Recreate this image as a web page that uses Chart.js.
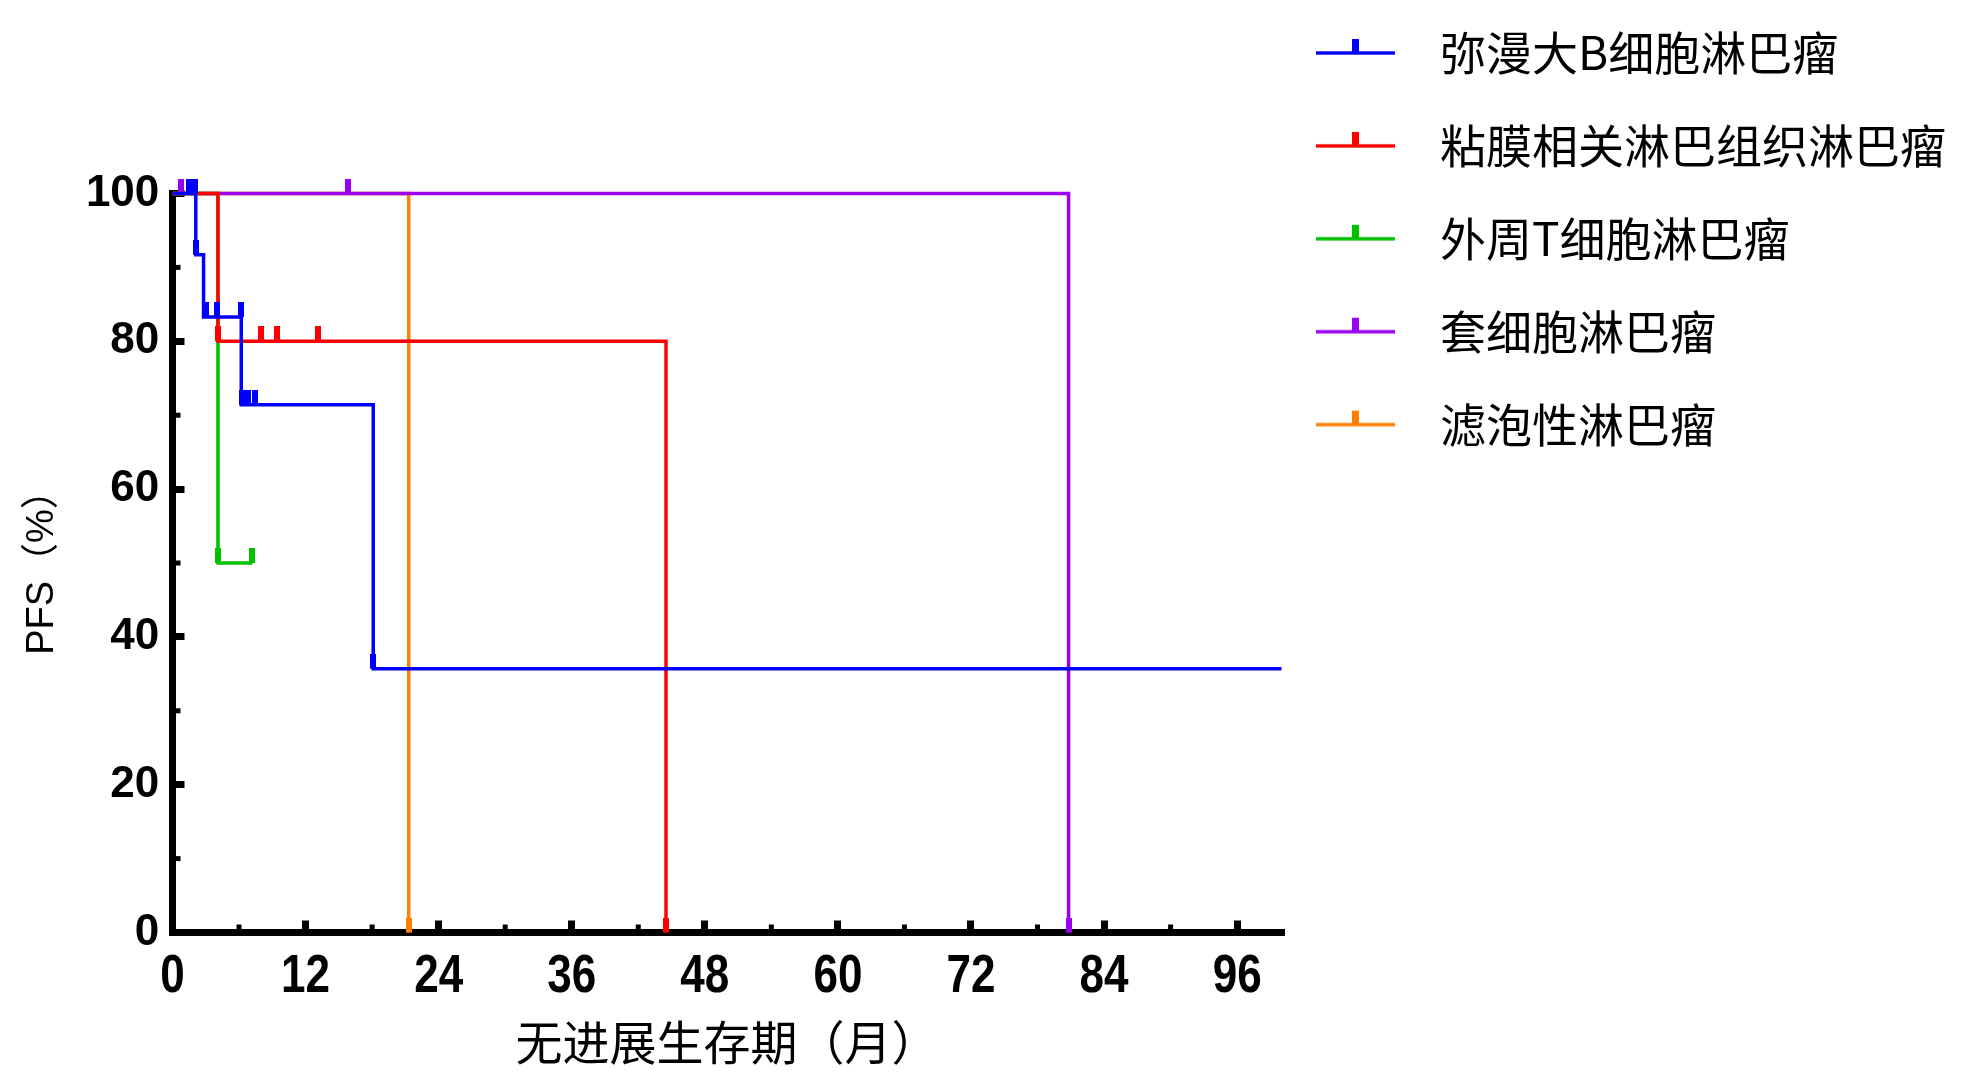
<!DOCTYPE html>
<html>
<head>
<meta charset="utf-8">
<style>
  html, body { margin: 0; padding: 0; background: #ffffff; }
  #wrap { width: 1969px; height: 1081px; }
</style>
<script src="https://cdn.jsdelivr.net/npm/chart.js@4/dist/chart.umd.min.js"></script>
</head>
<body>
<div id="wrap"><canvas id="c" width="1969" height="1081"></canvas></div>
<script>
// ---------------- data ----------------
const seriesNames = ['弥漫大B细胞淋巴瘤', '粘膜相关淋巴组织淋巴瘤', '外周T细胞淋巴瘤', '套细胞淋巴瘤', '滤泡性淋巴瘤'];
const seriesColors = ['#0000FF', '#FF0000', '#00C000', '#9C00F0', '#FF8000'];

const dlbclTime = [0, 2.1, 2.8, 6.2, 18.1, 100];
const dlbclPFS  = [100, 91.7, 83.3, 71.4, 35.7, 35.7];
const dlbclCensorTime = [1.5, 2.0, 2.1, 3.0, 4.0, 6.2, 6.3, 6.8, 7.4, 18.1];
const dlbclCensorPFS  = [100, 100, 91.7, 83.3, 83.3, 83.3, 71.4, 71.4, 71.4, 35.7];

const maltTime = [0, 4.1, 44.5];
const maltPFS  = [100, 80, 0];
const maltCensorTime = [4.1, 8.0, 9.4, 13.1, 44.5];
const maltCensorPFS  = [80, 80, 80, 80, 0];

const ptclTime = [0, 4.1, 7.2];
const ptclPFS  = [100, 50, 50];
const ptclCensorTime = [4.1, 7.2];
const ptclCensorPFS  = [50, 50];

const mclTime = [0, 80.8];
const mclPFS  = [100, 0];
const mclCensorTime = [0.8, 15.8, 80.8];
const mclCensorPFS  = [100, 100, 0];

const flTime = [0, 21.3];
const flPFS  = [100, 0];
const flCensorTime = [21.3];
const flCensorPFS  = [0];

const xTickValues = [0, 12, 24, 36, 48, 60, 72, 84, 96];
const xMinorTicks = [6, 18, 30, 42, 54, 66, 78, 90];
const yTickValues = [0, 20, 40, 60, 80, 100];
const yMinorTicks = [10, 30, 50, 70, 90];
const xTitle = '无进展生存期（月）';
const yTitle = 'PFS（%）';

// ---------------- helpers ----------------
function pts(xs, ys) { return xs.map((x, i) => ({x: x, y: ys[i]})); }

function censorMark(color) {
  const c = document.createElement('canvas');
  c.width = 6; c.height = 30;
  const g = c.getContext('2d');
  g.fillStyle = color;
  g.fillRect(0, 0, 6, 15);
  return c;
}
function legendIcon(color) {
  const c = document.createElement('canvas');
  c.width = 101; c.height = 30;
  const g = c.getContext('2d');
  g.fillStyle = color;
  g.fillRect(0, 13.3, 79, 3.4);
  g.fillRect(36, 1, 7, 14);
  return c;
}

const curves = [
  pts(dlbclTime, dlbclPFS), pts(maltTime, maltPFS), pts(ptclTime, ptclPFS),
  pts(mclTime, mclPFS), pts(flTime, flPFS)
];
const censors = [
  pts(dlbclCensorTime, dlbclCensorPFS), pts(maltCensorTime, maltCensorPFS),
  pts(ptclCensorTime, ptclCensorPFS), pts(mclCensorTime, mclCensorPFS),
  pts(flCensorTime, flCensorPFS)
];

const datasets = [];
seriesNames.forEach((name, i) => {
  datasets.push({
    label: name,
    data: curves[i],
    borderColor: seriesColors[i],
    backgroundColor: seriesColors[i],
    borderWidth: 3.5,
    stepped: 'before',
    pointRadius: 0,
    fill: false,
    clip: false,
    order: i
  });
});
seriesNames.forEach((name, i) => {
  datasets.push({
    label: name + ' censored',
    data: censors[i],
    showLine: false,
    pointStyle: censorMark(seriesColors[i]),
    pointRadius: 6,
    borderColor: seriesColors[i],
    backgroundColor: seriesColors[i],
    clip: false,
    order: i
  });
});

// narrow (condensed) x tick labels, as in the reference, and short minor ticks
const axisDetailPlugin = {
  id: 'axisDetail',
  beforeDraw(chart) {
    const xs = chart.scales.x;
    const items = xs.getLabelItems(chart.chartArea);
    items.forEach(it => {
      it.options.maxWidth = String(it.label).length * 24.5;
    });
  },
  afterDraw(chart) {
    const ctx = chart.ctx;
    const xs = chart.scales.x, ys = chart.scales.y;
    const area = chart.chartArea;
    ctx.save();
    ctx.fillStyle = '#000';
    xMinorTicks.forEach(v => {
      const px = xs.getPixelForValue(v);
      ctx.fillRect(px - 2.5, area.bottom - 8, 5, 8);
    });
    yMinorTicks.forEach(v => {
      const py = ys.getPixelForValue(v);
      ctx.fillRect(area.left, py - 2.5, 8, 5);
    });
    ctx.restore();
  }
};

const cjk = "'Noto Sans CJK SC', 'Noto Sans', sans-serif";

new Chart(document.getElementById('c'), {
  type: 'line',
  data: { datasets: datasets },
  plugins: [axisDetailPlugin],
  options: {
    responsive: false,
    devicePixelRatio: 1,
    animation: false,
    events: [],
    layout: { padding: { left: 0, right: 13, top: -4.5, bottom: 0 } },
    plugins: {
      tooltip: { enabled: false },
      title: {
        display: true,
        text: '',
        padding: { top: 186, bottom: 0 },
        font: { size: 12, lineHeight: 1 }
      },
      legend: {
        display: true,
        position: 'right',
        align: 'start',
        maxWidth: 720,
        labels: {
          usePointStyle: true,
          pointStyleWidth: 101,
          padding: 34.5,
          color: '#000',
          font: { family: cjk, size: 46, lineHeight: 1.2696 },
          generateLabels(chart) {
            return seriesNames.map((name, i) => ({
              text: [name],
              fillStyle: seriesColors[i],
              strokeStyle: seriesColors[i],
              fontColor: '#000',
              lineWidth: 0,
              hidden: false,
              pointStyle: legendIcon(seriesColors[i]),
              datasetIndex: i
            }));
          }
        }
      }
    },
    scales: {
      x: {
        type: 'linear',
        min: 0,
        max: 100,
        afterBuildTicks(scale) { scale.ticks = xTickValues.map(v => ({value: v})); },
        afterFit(scale) { scale.height = 148.5; },
        border: { display: true, width: 7, color: '#000' },
        grid: { display: true, drawOnChartArea: false, drawTicks: true, tickLength: -12, tickWidth: 7, lineWidth: 7, tickColor: '#000', color: '#000' },
        ticks: {
          autoSkip: false, maxRotation: 0, padding: 24.5, color: '#000',
          font: { family: "'Liberation Sans', Arial, sans-serif", size: 54, weight: 'bold', lineHeight: 1.2 }
        },
        title: {
          display: true, text: xTitle, color: '#000',
          padding: { top: 0, bottom: 10.8 },
          font: { family: cjk, size: 47, lineHeight: 1.2 }
        }
      },
      y: {
        type: 'linear',
        min: 0,
        max: 100,
        afterBuildTicks(scale) { scale.ticks = yTickValues.map(v => ({value: v})); },
        afterFit(scale) { scale.width = 172.5; },
        border: { display: true, width: 7, color: '#000' },
        grid: { display: true, drawOnChartArea: false, drawTicks: true, tickLength: -12, tickWidth: 7, lineWidth: 7, tickColor: '#000', color: '#000' },
        ticks: {
          autoSkip: false, padding: 25.2, color: '#000',
          font: { family: "'Liberation Sans', Arial, sans-serif", size: 44, weight: 'bold', lineHeight: 1.2 }
        },
        title: {
          display: true, text: yTitle, color: '#000',
          padding: { top: 20.2, bottom: 0 },
          font: { family: "'Liberation Sans', 'Noto Sans CJK SC', sans-serif", size: 38, lineHeight: 1.2 }
        }
      }
    }
  }
});
</script>
</body>
</html>
